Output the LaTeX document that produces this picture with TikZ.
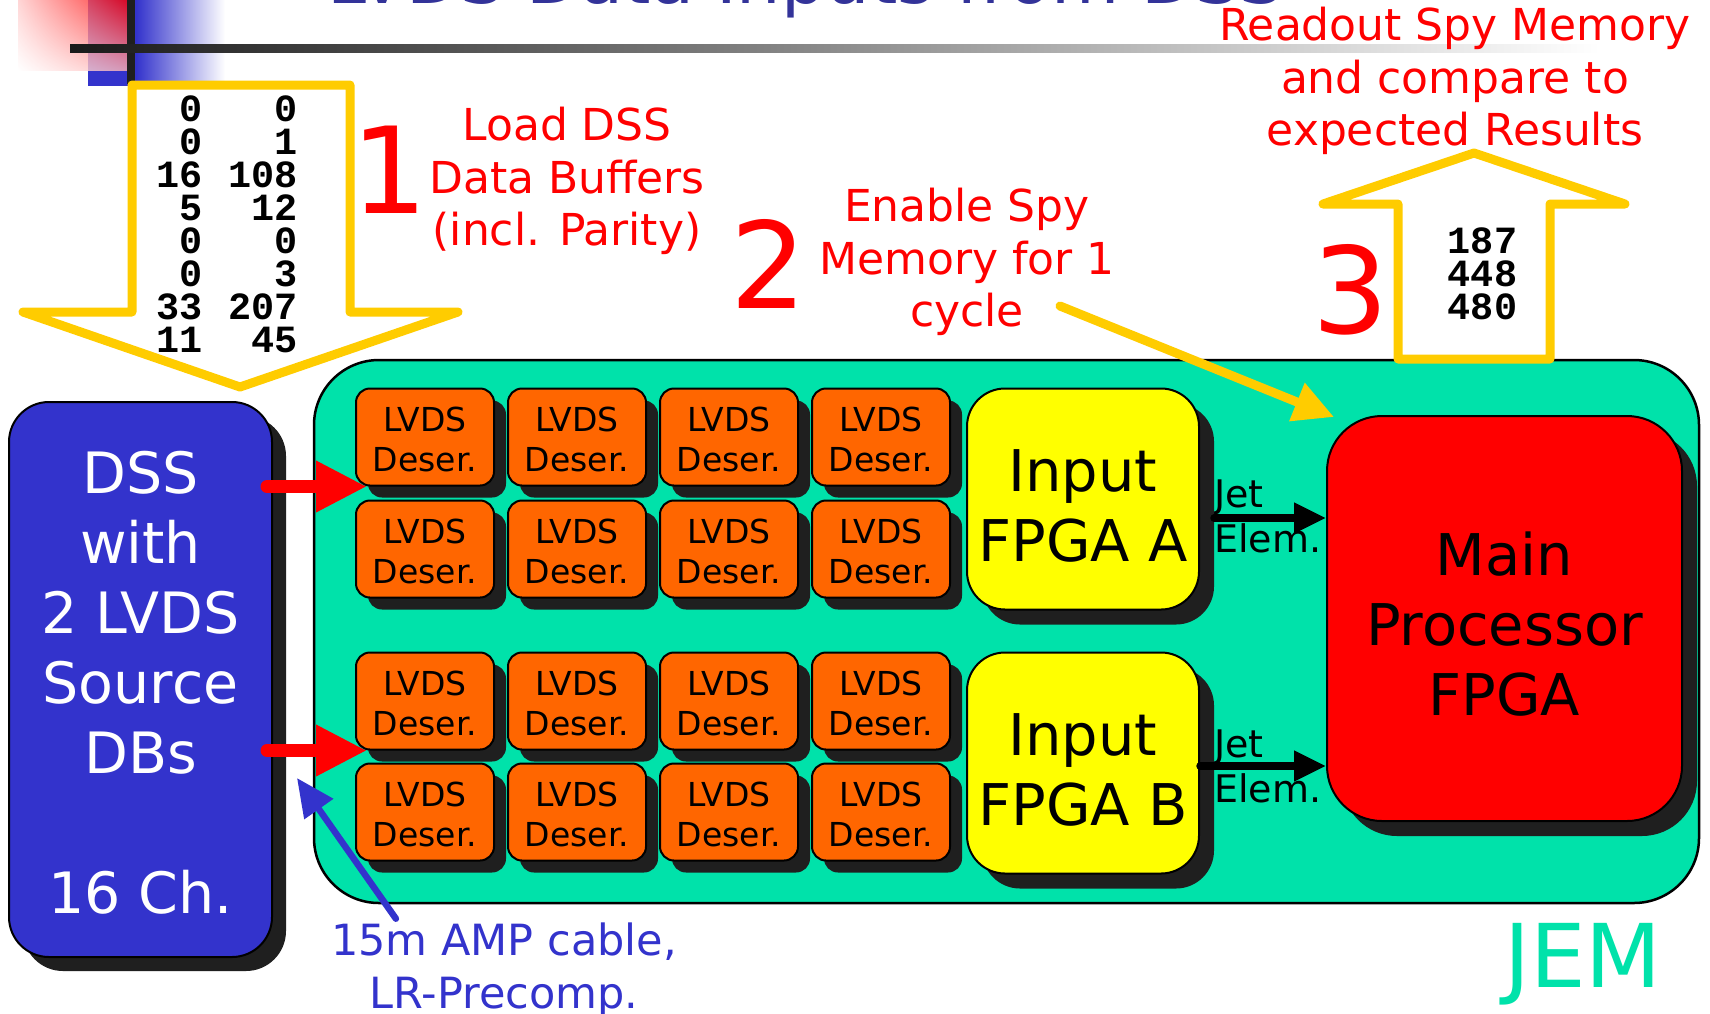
\documentclass[tikz,border=0pt]{standalone}
\usepackage{fontspec}
\setmainfont{DejaVu Sans}
\newfontfamily\numfont{Liberation Mono}
\usetikzlibrary{arrows.meta,shadows,shadings,calc}

\definecolor{jemteal}{RGB}{0,226,170}
\definecolor{dssblue}{RGB}{51,51,204}
\definecolor{lvdsorange}{RGB}{255,102,0}
\definecolor{fpgayellow}{RGB}{255,255,0}
\definecolor{mainred}{RGB}{255,0,0}
\definecolor{arrowyellow}{RGB}{255,204,0}
\definecolor{shadowgray}{RGB}{31,31,31}
\definecolor{titleblue}{RGB}{51,51,153}

% one row of the two-column data listing, right aligned in each column
\newcommand\datapair[2]{\makebox[46pt][r]{#1}\makebox[95pt][r]{#2}}
% taller first line, so that a box label sits a little lower
\newcommand\topstrut[1]{\rule{0pt}{#1}}

\tikzset{
  box/.style={draw=black, line width=2pt, inner sep=0pt, align=center},
  shadowed/.style={drop shadow={shadow xshift=#1, shadow yshift=-#1, fill=shadowgray, opacity=1}},
  dssbox/.style={box, fill=dssblue, text=white, rounded corners=40pt,
    minimum width=263pt, minimum height=555pt, shadowed=14pt,
    font=\fontsize{57}{70}\selectfont},
  lvdsbox/.style={box, fill=lvdsorange, rounded corners=14pt,
    minimum width=138pt, minimum height=97pt, shadowed=12pt,
    font=\fontsize{33}{40}\selectfont},
  fpgabox/.style={box, fill=fpgayellow, rounded corners=38pt,
    minimum width=232pt, minimum height=221pt, shadowed=15pt,
    font=\fontsize{57.5}{70}\selectfont},
  mainbox/.style={box, fill=mainred, rounded corners=55pt,
    minimum width=355pt, minimum height=405pt, shadowed=15pt,
    font=\fontsize{57.5}{70}\selectfont},
  jembox/.style={draw=black, line width=2.5pt, fill=jemteal, rounded corners=65pt,
    minimum width=1385pt, minimum height=543pt, inner sep=0pt},
  steplabel/.style={text=mainred, align=center, inner sep=0pt,
    font=\fontsize{44}{52.5}\selectfont},
  stepnum/.style={text=mainred, inner sep=0pt, anchor=base,
    font=\fontsize{120}{120}\selectfont},
  jetlabel/.style={align=left, inner sep=0pt, anchor=west,
    font=\fontsize{38}{45}\selectfont},
  datanums/.style={inner sep=0pt, align=right, font=\numfont\bfseries\fontsize{38.5}{33}\selectfont},
  hollowarrow/.style={draw=arrowyellow, line width=9pt, line join=round, fill=white},
  redarrow/.style={draw=mainred, line width=13pt, line cap=round,
    -{Triangle[length=51pt, width=48pt]}},
  jetarrow/.style={draw=black, line width=7.5pt, line cap=round,
    -{Triangle[length=32pt, width=29pt]}},
  cablearrow/.style={draw=dssblue, line width=6.5pt, line cap=round,
    -{Triangle[length=38pt, width=34pt]}},
  spyarrow/.style={draw=arrowyellow, line width=9pt, line cap=round,
    -{Triangle[length=40pt, width=39pt]}},
}

\begin{document}
\begin{tikzpicture}[x=1pt, y=-1pt]
\useasboundingbox (0,0) rectangle (1710,1013);
\clip (0,0) rectangle (1710,1013);
\fill[white] (0,0) rectangle (1710,1013);

% corner ornament and rule under the heading
\fill[dssblue] (88,0) rectangle (136,86);
\shade[left color=dssblue, right color=white] (136,0) rectangle (225,86);
\shade[upper right=red, upper left=red!20, lower right=red!30, lower left=white, opacity=0.8]
  (18,0) rectangle (127,70);
\fill[black!88] (127,0) rectangle (135,84);
\shade[left color=black!90, right color=white] (70,44) rectangle (1600,52);

\node[anchor=base west, inner sep=0pt, text=titleblue, font=\fontsize{70}{70}\selectfont]
  (title) at (327,3) {LVDS Data Inputs from DSS};

% JEM board
\node[jembox] (jem) at (1006.5,631.5) {};
\node[anchor=base, inner sep=0pt, text=jemteal, font=\fontsize{88}{88}\selectfont]
  (jemlabel) at (1583,987) {JEM};

% jet element labels
\node[jetlabel] (jetA) at (1214,516.7) {Jet\\Elem.};
\node[jetlabel] (jetB) at (1214,766.7) {Jet\\Elem.};

\node[mainbox] (main) at (1504.5,618.5) {\topstrut{55pt}Main\\Processor\\FPGA};

% DSS source
\node[dssbox] (dss) at (140.5,679.5) {\topstrut{49pt}DSS\\with\\2 LVDS\\Source\\DBs\\[70pt]16 Ch.};

% deserialisers
\foreach \r/\yy in {1/437,2/549,3/701,4/812}
  \foreach \c/\xx in {1/425,2/577,3/729,4/881}
    \node[lvdsbox] (lv\r\c) at (\xx,\yy) {\topstrut{30pt}LVDS\\Deser.};

% input FPGAs and their links to the main processor
\node[fpgabox] (fpgaA) at (1083,499) {\topstrut{56pt}Input\\FPGA A};
\node[fpgabox] (fpgaB) at (1083,763) {\topstrut{56pt}Input\\FPGA B};

\draw[jetarrow] ([shift={(14pt,-19pt)}]fpgaA.east) -- ([yshift=-19pt]fpgaA.east -| main.west);
\draw[jetarrow] ([yshift=-3pt]fpgaB.east) -- ([yshift=-3pt]fpgaB.east -| main.west);

% LVDS links from the DSS
\draw[redarrow] ([xshift=-6pt]dss.east |- lv11.south west) -- ([xshift=12pt]lv11.south west);
\draw[redarrow] ([xshift=-6pt]dss.east |- lv31.south west) -- ([xshift=12pt]lv31.south west);

% cable note
\node[text=dssblue, align=center, inner sep=0pt, font=\fontsize{43}{53}\selectfont]
  (cable) at (504,970.2) {15m AMP cable,\\LR-Precomp.};
\coordinate (cabletip) at (297,778);
\draw[cablearrow] ([shift={(65pt,4pt)}]cable.north west) -- (cabletip);

% step 1: data loaded into the DSS
\draw[hollowarrow] (132,85) -- (350,85) -- (350,312) -- (458,312) -- (240,387)
  -- (23,312) -- (132,312) -- cycle;
\node[datanums] (datain) at (227.5,224) {\datapair{0}{0}\\\datapair{0}{1}\\
  \datapair{16}{108}\\\datapair{5}{12}\\\datapair{0}{0}\\\datapair{0}{3}\\
  \datapair{33}{207}\\\datapair{11}{45}};
\node[stepnum] (one) at (390,213) {1};
\node[steplabel] (load) at (567,181) {Load DSS\\Data Buffers\\(incl. Parity)};

% step 2: spy memory enable
\node[stepnum] (two) at (769,308) {2};
\node[steplabel] (enable) at (967,262) {Enable Spy\\Memory for 1\\cycle};
\coordinate (spystart) at (1060,306);
\draw[spyarrow] (spystart) -- ([shift={(8pt,-2pt)}]main.north west);

% step 3: readout
\draw[hollowarrow] (1398,359) -- (1550,359) -- (1550,204) -- (1625,204) -- (1474,153)
  -- (1323,204) -- (1398,204) -- cycle;
\node[datanums] (dataout) at (1482.5,273.5) {187\\448\\480};
\node[stepnum] (three) at (1351,333) {3};
\node[steplabel] (readout) at (1455,81) {Readout Spy Memory\\and compare to\\expected Results};
\end{tikzpicture}
\end{document}
